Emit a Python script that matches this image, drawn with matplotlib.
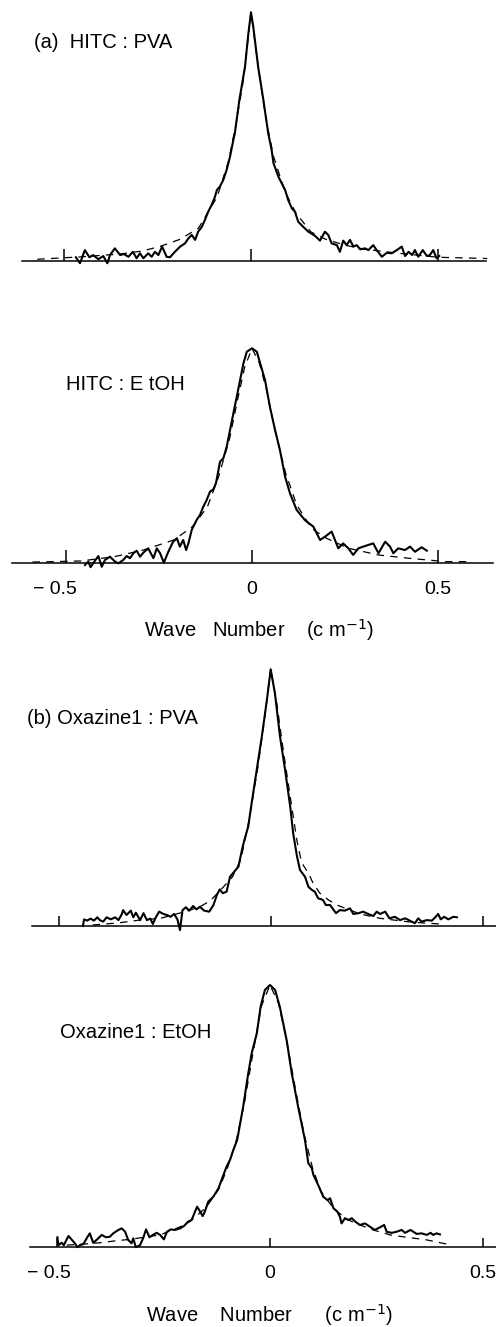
import numpy as np
import matplotlib.pyplot as plt

plt.rcParams['font.family'] = ['Liberation Sans', 'DejaVu Sans']

# hole-burning line shapes, wave number (cm-1) vs intensity (% of peak)
# solid = measured, dashed = fit

# (a) HITC : PVA
hitc_pva_x = [-0.467, -0.456, -0.443, -0.431, -0.421, -0.407, -0.394, -0.383, -0.376, -0.363,
              -0.349, -0.339, -0.327, -0.315, -0.305, -0.296, -0.287, -0.274, -0.265, -0.256,
              -0.247, -0.237, -0.225, -0.216, -0.203, -0.189, -0.176, -0.167, -0.158, -0.149,
              -0.141, -0.131, -0.123, -0.114, -0.105, -0.096, -0.091, -0.083, -0.074, -0.065,
              -0.056, -0.047, -0.043, -0.031, -0.016, -0.007, 0.0, 0.006, 0.019, 0.033,
              0.046, 0.055, 0.060, 0.073, 0.082, 0.091, 0.099, 0.109, 0.117, 0.126,
              0.139, 0.153, 0.171, 0.184, 0.197, 0.206, 0.215, 0.229, 0.237, 0.246,
              0.255, 0.264, 0.273, 0.282, 0.291, 0.304, 0.313, 0.326, 0.335, 0.349,
              0.362, 0.375, 0.389, 0.402, 0.411, 0.420, 0.430, 0.437, 0.446, 0.458,
              0.469, 0.477, 0.486, 0.495, 0.502]
hitc_pva_y = [1.3, -1.1, 4.2, 1.3, 2.2, 0.5, 1.8, -1.1, 2.2, 4.9,
              2.2, 2.6, 1.5, 3.5, 0.9, 2.9, 0.9, 2.9, 1.5, 3.5,
              2.2, 5.6, 1.5, 1.3, 3.5, 5.6, 6.9, 8.9, 10.3, 8.3,
              11.6, 13.6, 16.3, 19.7, 22.4, 25.7, 28.4, 29.8, 32.4, 36.5,
              41.8, 48.6, 51.4, 64.7, 78.1, 91.5, 100.0, 94.3, 78.1, 64.7,
              51.2, 44.5, 39.2, 33.8, 31.1, 28.4, 24.4, 21.0, 19.7, 15.6,
              13.6, 11.6, 9.9, 8.0, 11.6, 10.3, 6.9, 6.2, 3.5, 8.0,
              6.2, 8.3, 5.6, 6.2, 4.5, 4.9, 4.2, 6.2, 4.2, 1.5,
              3.1, 2.9, 4.2, 5.6, 1.8, 3.5, 2.2, 4.2, 1.5, 4.2,
              1.8, 2.2, 4.2, 0.9, 1.8]
hitc_pva_fit_x = [-0.57, -0.45, -0.35, -0.29, -0.24, -0.19, -0.14, -0.09, -0.06, -0.04, -0.02, 0.0,
                  0.02, 0.04, 0.06, 0.09, 0.12, 0.16, 0.2, 0.25, 0.3, 0.35, 0.4, 0.5, 0.63]
hitc_pva_fit_y = [0.5, 1.5, 2.6, 3.8, 5.8, 8.5, 13.0, 25.7, 40.0, 55.0, 73.0, 100.0,
                  77.0, 57.0, 42.0, 28.0, 19.0, 11.5, 8.5, 6.2, 4.6, 3.7, 2.8, 1.3, 0.8]

# HITC : EtOH
hitc_etoh_x = [-0.449, -0.440, -0.434, -0.424, -0.413, -0.404, -0.395, -0.382, -0.368, -0.359,
               -0.346, -0.337, -0.328, -0.319, -0.310, -0.301, -0.292, -0.279, -0.265, -0.256,
               -0.247, -0.237, -0.225, -0.212, -0.202, -0.194, -0.185, -0.177, -0.171, -0.162,
               -0.149, -0.140, -0.131, -0.122, -0.113, -0.104, -0.097, -0.091, -0.086, -0.077,
               -0.068, -0.059, -0.050, -0.041, -0.032, -0.023, -0.014, 0.0, 0.013, 0.022,
               0.035, 0.048, 0.062, 0.075, 0.089, 0.102, 0.120, 0.142, 0.165, 0.183,
               0.196, 0.214, 0.232, 0.245, 0.259, 0.272, 0.286, 0.299, 0.313, 0.326,
               0.340, 0.358, 0.371, 0.380, 0.393, 0.411, 0.425, 0.438, 0.456, 0.470]
hitc_etoh_y = [-1.1, 0.5, -2.1, 0.5, 3.1, -1.9, 1.3, 2.8, 0.5, -0.3,
               1.3, 3.1, 2.1, 4.4, 5.6, 2.8, 4.7, 6.7, 2.1, 6.7,
               4.4, 0.0, 5.1, 9.8, 11.4, 7.5, 10.6, 5.9, 9.0, 15.3,
               19.9, 22.2, 26.1, 29.2, 33.1, 34.2, 37.0, 42.4, 47.1, 48.7,
               54.1, 61.9, 69.7, 77.4, 85.2, 93.0, 98.4, 100.0, 98.4, 93.0,
               85.2, 72.8, 61.9, 52.6, 40.1, 32.4, 24.6, 19.9, 16.8, 10.6,
               12.1, 14.5, 6.7, 9.0, 6.7, 3.6, 6.7, 7.5, 8.3, 9.0,
               4.4, 9.8, 7.5, 4.4, 6.7, 5.9, 7.5, 5.1, 7.2, 5.6]
hitc_etoh_fit_x = [-0.59, -0.46, -0.37, -0.29, -0.21, -0.16, -0.12, -0.09, -0.06, -0.04, -0.02, 0.0,
                   0.02, 0.04, 0.06, 0.09, 0.12, 0.16, 0.2, 0.26, 0.34, 0.42, 0.47, 0.52, 0.58]
hitc_etoh_fit_y = [0.3, 0.8, 2.8, 6.0, 10.6, 16.8, 26.0, 40.0, 58.0, 75.0, 91.0, 100.0,
                   93.0, 80.0, 63.0, 42.0, 27.0, 16.0, 11.4, 6.7, 3.6, 2.1, 1.3, 0.5, 0.5]

# (b) Oxazine1 : PVA
oxa_pva_x = [-0.443, -0.440, -0.433, -0.425, -0.417, -0.409, -0.403, -0.395, -0.387, -0.377,
             -0.367, -0.359, -0.351, -0.348, -0.340, -0.330, -0.324, -0.318, -0.308, -0.300,
             -0.292, -0.284, -0.278, -0.271, -0.263, -0.253, -0.245, -0.236, -0.228, -0.220,
             -0.214, -0.208, -0.200, -0.192, -0.183, -0.175, -0.167, -0.157, -0.145, -0.135,
             -0.127, -0.120, -0.113, -0.104, -0.096, -0.084, -0.076, -0.072, -0.066, -0.062,
             -0.053, -0.045, -0.033, -0.021, -0.009, 0.0, 0.010, 0.022, 0.034, 0.046,
             0.053, 0.062, 0.069, 0.081, 0.089, 0.097, 0.104, 0.112, 0.123, 0.130,
             0.140, 0.154, 0.163, 0.175, 0.187, 0.195, 0.207, 0.218, 0.230, 0.242,
             0.250, 0.258, 0.270, 0.280, 0.293, 0.305, 0.317, 0.328, 0.340, 0.348,
             0.356, 0.368, 0.380, 0.388, 0.395, 0.401, 0.409, 0.419, 0.431, 0.439]
oxa_pva_y = [-0.2, 2.4, 1.9, 2.7, 1.9, 3.2, 2.1, 1.5, 3.2, 2.4,
             3.2, 2.1, 4.5, 6.0, 4.1, 5.8, 3.2, 5.0, 2.1, 4.8,
             2.1, 2.7, 0.6, 3.2, 5.4, 4.5, 4.1, 3.4, 4.5, 2.4,
             -1.8, 6.0, 7.1, 5.8, 7.6, 6.3, 7.3, 5.8, 5.4, 8.0,
             11.9, 14.1, 12.6, 13.2, 19.0, 21.4, 23.0, 26.2, 30.8, 33.4,
             38.6, 47.7, 60.7, 73.7, 88.0, 100.0, 90.6, 73.7, 60.7, 46.4,
             36.0, 27.0, 21.7, 19.0, 15.1, 13.9, 13.2, 10.6, 10.0, 8.0,
             8.0, 4.8, 6.0, 5.8, 6.7, 4.5, 4.8, 5.4, 4.5, 3.7,
             5.4, 4.5, 5.4, 2.8, 3.4, 2.1, 2.8, 1.9, 0.9, 2.8,
             1.5, 2.1, 1.9, 3.2, 4.5, 2.4, 3.4, 2.4, 3.4, 3.2]
oxa_pva_fit_x = [-0.42, -0.36, -0.31, -0.26, -0.2, -0.167, -0.143, -0.12, -0.09, -0.07, -0.05, -0.03,
                 -0.015, 0.0, 0.015, 0.03, 0.05, 0.062, 0.073, 0.089, 0.1, 0.116, 0.136, 0.156,
                 0.211, 0.258, 0.321, 0.368, 0.4]
oxa_pva_fit_y = [0.2, 1.0, 2.1, 2.8, 5.5, 7.3, 9.6, 13.5, 19.0, 26.0, 42.0, 62.0,
                 80.0, 100.0, 86.0, 68.0, 46.0, 33.0, 24.5, 20.4, 16.5, 12.6, 10.0, 8.0,
                 4.5, 2.8, 1.5, 0.9, 0.6]

# Oxazine1 : EtOH
oxa_etoh_x = [-0.499, -0.497, -0.489, -0.484, -0.473, -0.465, -0.458, -0.452, -0.446, -0.438,
              -0.429, -0.423, -0.415, -0.407, -0.395, -0.385, -0.376, -0.368, -0.356, -0.348,
              -0.340, -0.333, -0.325, -0.321, -0.315, -0.305, -0.297, -0.291, -0.283, -0.275,
              -0.266, -0.258, -0.249, -0.242, -0.233, -0.223, -0.211, -0.202, -0.192, -0.184,
              -0.176, -0.171, -0.164, -0.158, -0.153, -0.145, -0.133, -0.121, -0.111, -0.102,
              -0.094, -0.086, -0.077, -0.063, -0.051, -0.043, -0.031, -0.022, -0.012, 0.0,
              0.012, 0.023, 0.039, 0.051, 0.066, 0.082, 0.090, 0.098, 0.102, 0.113,
              0.125, 0.135, 0.141, 0.149, 0.158, 0.164, 0.168, 0.176, 0.184, 0.192,
              0.200, 0.211, 0.223, 0.235, 0.246, 0.258, 0.268, 0.274, 0.286, 0.297,
              0.309, 0.317, 0.330, 0.344, 0.356, 0.368, 0.377, 0.383, 0.391, 0.399]
oxa_etoh_y = [3.6, 0.6, 1.5, 0.6, 4.1, 2.6, 1.3, -0.2, 0.6, 1.0,
              3.6, 5.1, 1.5, 2.6, 4.5, 3.6, 3.8, 5.1, 6.4, 7.0,
              5.7, 2.6, 1.3, 3.2, -0.2, 0.6, 3.6, 6.6, 3.6, 4.5,
              5.3, 4.5, 2.8, 5.7, 6.6, 6.4, 7.0, 7.9, 9.6, 10.2,
              13.4, 15.3, 13.4, 11.7, 13.4, 17.2, 19.1, 22.3, 26.7, 30.6,
              33.1, 37.0, 40.8, 53.5, 66.3, 73.9, 81.5, 91.7, 98.1, 100.0,
              98.1, 91.7, 79.0, 66.3, 53.5, 40.8, 31.9, 30.0, 27.4, 23.6,
              19.1, 17.8, 18.5, 14.7, 13.4, 11.5, 8.9, 10.9, 10.2, 10.9,
              9.6, 8.3, 8.9, 7.6, 6.4, 7.4, 8.3, 5.7, 5.3, 5.7,
              6.4, 5.3, 6.4, 4.9, 5.1, 4.5, 5.3, 4.5, 5.1, 4.7]
oxa_etoh_fit_x = [-0.477, -0.438, -0.399, -0.36, -0.329, -0.258, -0.211, -0.188, -0.15, -0.12, -0.1,
                  -0.08, -0.06, -0.04, -0.02, 0.0, 0.02, 0.04, 0.06, 0.08, 0.1, 0.12, 0.15,
                  0.18, 0.211, 0.242, 0.282, 0.321, 0.368, 0.415]
oxa_etoh_fit_y = [0.6, 1.0, 1.5, 2.3, 2.8, 4.5, 7.6, 9.6, 15.0, 22.0, 30.0,
                  40.0, 55.0, 74.0, 92.0, 100.0, 93.0, 78.0, 60.0, 43.0, 30.0, 21.0, 14.5,
                  10.5, 8.3, 6.4, 4.5, 3.6, 2.6, 1.0]

tick_vals = [-0.5, 0, 0.5]
tick_text = ['\u2212 0.5', '0', '0.5']

W, H = 496, 1327
fig = plt.figure(figsize=(W / 100, H / 100), dpi=100)


def panel(zero_px, px_per_unit, left, right, base, top, xs, ys, fit_x, fit_y, tlen):
    ax = fig.add_axes([left / W, 1 - base / H, (right - left) / W, (base - top) / H])
    ax.set_xlim((left - zero_px) / px_per_unit, (right - zero_px) / px_per_unit)
    ax.set_ylim(0, 100)
    ax.plot(fit_x, fit_y, color='k', lw=0.9, ls=(0, (6, 5)), clip_on=False)
    ax.plot(xs, ys, color='k', lw=1.5, clip_on=False)
    for sp in ['left', 'right', 'top']:
        ax.spines[sp].set_visible(False)
    ax.spines['bottom'].set_linewidth(1.1)
    ax.set_yticks([])
    ax.set_xticks(tick_vals)
    ax.set_xticklabels([])
    ax.tick_params(axis='x', direction='in', length=tlen, width=1.1)
    ax.patch.set_visible(False)
    return ax


def tick_labels(ax, shift):
    # number centred on the tick, the minus sign hangs to the left
    for v, s in zip(tick_vals, tick_text):
        x = v + shift if v < 0 else v
        ax.annotate(s, xy=(x, 0), xycoords=('data', 'axes fraction'),
                    xytext=(0, -19.5), textcoords='offset points',
                    ha='center', va='center', fontsize=14, annotation_clip=False)


panel(251, 375, 22, 486, 260.5, 12.3, hitc_pva_x, hitc_pva_y, hitc_pva_fit_x, hitc_pva_fit_y, 9)
ax2 = panel(252, 372, 12, 493, 562.7, 348.3, hitc_etoh_x, hitc_etoh_y, hitc_etoh_fit_x, hitc_etoh_fit_y, 9.5)
panel(270.7, 424, 32, 496, 925.5, 669.3, oxa_pva_x, oxa_pva_y, oxa_pva_fit_x, oxa_pva_fit_y, 7)
ax4 = panel(270, 426, 30, 496, 1246.7, 985, oxa_etoh_x, oxa_etoh_y, oxa_etoh_fit_x, oxa_etoh_fit_y, 6.5)
tick_labels(ax2, -0.03)
tick_labels(ax4, -0.02)


def ftext(px, py, s, **kw):
    fig.text(px / W, 1 - py / H, s, va='center', **kw)


ftext(34, 43, '(a)  HITC : PVA', fontsize=14.5)
ftext(66, 384, 'HITC : E tOH', fontsize=14.5)
ftext(27, 718, '(b) Oxazine1 : PVA', fontsize=14.5)
ftext(60, 1032, 'Oxazine1 : EtOH', fontsize=14.5)
ftext(259, 630, 'Wave   Number    (c m$^{-1}$)', fontsize=14.5, ha='center')
ftext(269, 1315, 'Wave    Number      (c m$^{-1}$)', fontsize=14.5, ha='center')

fig.savefig('out.png', dpi=100)
